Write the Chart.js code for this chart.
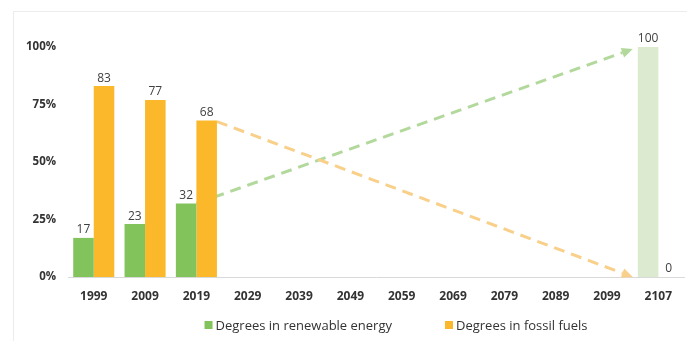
<!DOCTYPE html>
<html>
<head>
<meta charset="utf-8">
<script src="https://cdn.jsdelivr.net/npm/chart.js@4"></script>
<style>
  html, body { margin: 0; padding: 0; background: #fff; }
  #frame {
    position: absolute;
    left: 13px;
    top: 11px;
    width: 674px;
    height: 330px;
    border-top: 1px solid #ececec;
    border-left: 1px solid #ececec;
  }
  #energyChart { display: block; }
</style>
</head>
<body>
<div id="frame">
  <canvas id="energyChart" width="673" height="329"></canvas>
</div>
<script>
const years = ['1999', '2009', '2019', '2029', '2039', '2049', '2059', '2069', '2079', '2089', '2099', '2107'];
const renewable = [17, 23, 32, null, null, null, null, null, null, null, null, 100];
const fossil = [83, 77, 68, null, null, null, null, null, null, null, null, 0];
const yTicks = [0, 25, 50, 75, 100];

const green = '#83c35b';
const greenLight = '#dcebd0';
const orange = '#fab82a';
const greenDash = '#b2d99b';
const orangeDash = '#f8d08a';

// last renewable bar is the projected one, so it gets the pale colour
const renewableColors = renewable.map((v, i) => i === renewable.length - 1 ? greenLight : green);
const legendColors = [green, orange];

const valueLabels = {
    id: 'valueLabels',
    afterDatasetsDraw(chart) {
        const c = chart.ctx;
        c.save();
        c.font = '12px "Open Sans"';
        c.fillStyle = '#404040';
        c.textAlign = 'center';
        c.textBaseline = 'bottom';
        chart.data.datasets.forEach((ds, di) => {
            chart.getDatasetMeta(di).data.forEach((bar, i) => {
                const v = ds.data[i];
                if (v === null) return;
                c.fillText(String(v), bar.x, bar.y - 2);
            });
        });
        c.restore();
    }
};

function drawArrow(c, x1, y1, x2, y2, color) {
    const ang = Math.atan2(y2 - y1, x2 - x1);
    const head = 11;
    c.save();
    c.strokeStyle = color;
    c.fillStyle = color;
    c.lineWidth = 3;
    c.setLineDash([11, 7]);
    c.beginPath();
    c.moveTo(x1, y1);
    c.lineTo(x2 - Math.cos(ang) * head, y2 - Math.sin(ang) * head);
    c.stroke();
    c.setLineDash([]);
    c.beginPath();
    c.moveTo(x2, y2);
    c.lineTo(x2 - head * Math.cos(ang) + 5 * Math.sin(ang), y2 - head * Math.sin(ang) - 5 * Math.cos(ang));
    c.lineTo(x2 - head * Math.cos(ang) - 5 * Math.sin(ang), y2 - head * Math.sin(ang) + 5 * Math.cos(ang));
    c.closePath();
    c.fill();
    c.restore();
}

// dashed trend arrows from the 2019 bars to the 2107 projection
const trendArrows = {
    id: 'trendArrows',
    beforeDatasetsDraw(chart) {
        const c = chart.ctx;
        const greenBars = chart.getDatasetMeta(0).data;
        const orangeBars = chart.getDatasetMeta(1).data;
        const from = years.indexOf('2019');
        const to = years.length - 1;
        const g0 = greenBars[from], o0 = orangeBars[from], end = greenBars[to];
        const endX = end.x - end.width / 2 - 5;
        drawArrow(c, g0.x + g0.width / 2, g0.y, endX, end.y + 2, greenDash);
        drawArrow(c, o0.x + o0.width / 2, o0.y + 1, endX, end.base, orangeDash);
    }
};

// compact legend: small square right next to the text, wide gap between items
const bottomLegend = {
    id: 'bottomLegend',
    afterDraw(chart) {
        const c = chart.ctx;
        const box = 8, boxGap = 3, itemGap = 53;
        c.save();
        c.font = '13px "Open Sans"';
        c.textBaseline = 'middle';
        const items = chart.data.datasets.map((ds, i) => ({
            text: ds.label,
            color: legendColors[i],
            w: box + boxGap + c.measureText(ds.label).width
        }));
        const total = items.reduce((s, it) => s + it.w, 0) + itemGap * (items.length - 1);
        const cx = (chart.chartArea.left + chart.chartArea.right) / 2 + 20;
        const y = chart.height - 16;
        let x = cx - total / 2;
        items.forEach(it => {
            c.fillStyle = it.color;
            c.fillRect(x, y - box / 2, box, box);
            c.fillStyle = '#333';
            c.fillText(it.text, x + box + boxGap, y + 1);
            x += it.w + itemGap;
        });
        c.restore();
    }
};

new Chart(document.getElementById('energyChart'), {
    type: 'bar',
    data: {
        labels: years,
        datasets: [{
            label: 'Degrees in renewable energy',
            data: renewable,
            backgroundColor: renewableColors,
            categoryPercentage: 0.8,
            barPercentage: 1.0
        }, {
            label: 'Degrees in fossil fuels',
            data: fossil,
            backgroundColor: orange,
            categoryPercentage: 0.8,
            barPercentage: 1.0
        }]
    },
    options: {
        responsive: false,
        animation: false,
        layout: { padding: { left: 0, top: 35, right: 3, bottom: 33 } },
        scales: {
            x: {
                grid: { display: false, drawTicks: false },
                border: { display: true, color: '#d9d9d9', width: 1 },
                ticks: {
                    color: '#333',
                    padding: 12,
                    font: { family: 'Open Sans', size: 12, weight: 'bold' }
                },
                afterFit(scale) { scale.height = 31; }
            },
            y: {
                min: 0,
                max: 100,
                afterBuildTicks(scale) { scale.ticks = yTicks.map(v => ({ value: v })); },
                grid: { display: false, drawTicks: false },
                border: { display: false },
                ticks: {
                    color: '#333',
                    padding: 12,
                    font: { family: 'Open Sans', size: 11.5, weight: 'bold' },
                    callback: v => v + '%'
                }
            }
        },
        plugins: {
            tooltip: { enabled: false },
            legend: { display: false }
        }
    },
    plugins: [trendArrows, valueLabels, bottomLegend]
});
</script>
</body>
</html>
